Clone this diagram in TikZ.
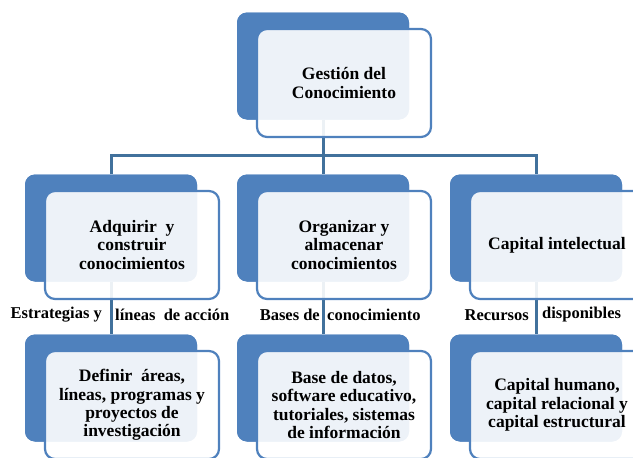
\documentclass[tikz,border=0pt]{standalone}
\usepackage{fontspec}
\setmainfont{Liberation Serif}
\usetikzlibrary{calc}
\definecolor{accent}{HTML}{4F81BD}
\definecolor{linkc}{HTML}{41719C}
\begin{document}
\begin{tikzpicture}[x=1pt,y=-1pt,
  backbox/.style={fill=accent, draw=none, rounded corners=10pt, minimum width=172pt, minimum height=107pt, inner sep=0pt},
  frontbox/.style={fill=white, fill opacity=0.9, text opacity=1, draw=accent, line width=2.2pt, rounded corners=10pt, minimum width=174pt, minimum height=108pt, inner sep=0pt, align=center, font=\bfseries\fontsize{17.5}{18.3}\selectfont},
  link/.style={draw=linkc, line width=3pt},
  lbl/.style={font=\bfseries\fontsize{16.5}{18}\selectfont, inner sep=0pt}]
\useasboundingbox (0,0) rectangle (633,458);
% back boxes
\node[backbox] (t)  at (323,66) {};
\node[backbox] (m1) at (111,228) {};
\node[backbox] (m2) at (323,228) {};
\node[backbox] (m3) at (536,228) {};
\node[backbox] (d1) at (111,388) {};
\node[backbox] (d2) at (323,388) {};
\node[backbox] (d3) at (536,388) {};
% connectors
\coordinate (h) at (323,155);
\begin{scope}[on background layer/.style={}]
\draw[link] (t.south) -- (h);
\draw[link] (m1.north) |- (h) -| (m3.north);
\draw[link] (h) -- (m2.north);
\draw[link] (m1.south) -- (d1.north);
\draw[link] (m2.south) -- (d2.north);
\draw[link] (m3.south) -- (d3.north);
\end{scope}
% redraw back boxes above connectors
\node[backbox] at (t) {};
\node[backbox] at (m1) {};
\node[backbox] at (m2) {};
\node[backbox] at (m3) {};
\node[backbox] at (d1) {};
\node[backbox] at (d2) {};
\node[backbox] at (d3) {};
% front boxes
\node[frontbox] (ft) at ($(t)+(21,17)$) {Gestión del\\Conocimiento};
\node[frontbox] (f1) at ($(m1)+(21,17)$) {Adquirir\ \ y\\construir\\conocimientos};
\node[frontbox] (f2) at ($(m2)+(21,17)$) {Organizar y\\almacenar\\conocimientos};
\node[frontbox] (f3) at ($(m3)+(21,17)$) {Capital intelectual};
\node[frontbox] (g1) at ($(d1)+(21,17)$) {Definir\ \ áreas,\\líneas, programas y\\proyectos de\\investigación};
\node[frontbox] (g2) at ($(d2)+(21,17)$) {Base de datos,\\software educativo,\\tutoriales, sistemas\\de información};
\node[frontbox] (g3) at ($(d3)+(21,17)$) {Capital humano,\\capital relacional y\\capital estructural};
% labels
\node[lbl, anchor=east] (l1a) at (102,315) {Estrategias y};
\node[lbl, anchor=west] (l1b) at (115,315) {líneas\ \ de acción};
\node[lbl, anchor=east] (l2a) at (320,315) {Bases de};
\node[lbl, anchor=west] (l2b) at (327,315) {conocimiento};
\node[lbl, anchor=east] (l3a) at (529,315) {Recursos};
\node[lbl, anchor=west] (l3b) at (542,315) {disponibles};
\end{tikzpicture}
\end{document}
